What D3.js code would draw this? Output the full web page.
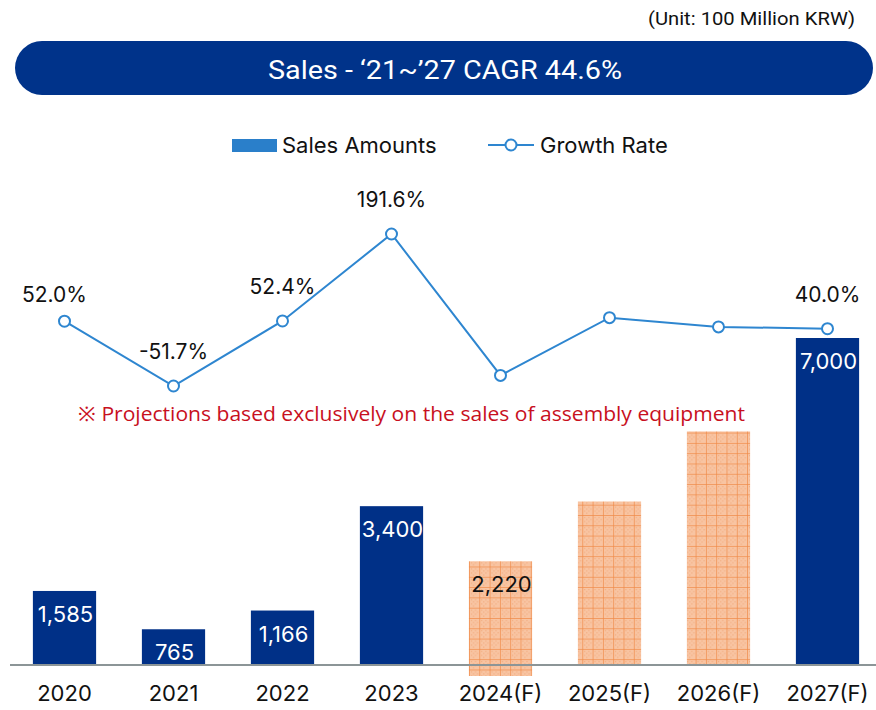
<!DOCTYPE html>
<html>
<head>
<meta charset="utf-8">
<script src="https://cdn.jsdelivr.net/npm/d3@7"></script>
<style>
  body { margin: 0; background: #fff; }
  svg { display: block; font-family: Inter, "Noto Sans", sans-serif; }
</style>
</head>
<body>
<div id="chart"></div>
<script>
// chart values
const years = ["2020", "2021", "2022", "2023", "2024(F)", "2025(F)", "2026(F)", "2027(F)"];
const sales = [1585, 765, 1166, 3400, 2220, 3500, 5000, 7000];
const salesLabels = ["1,585", "765", "1,166", "3,400", "2,220", "", "", "7,000"];
const forecast = [false, false, false, false, true, true, true, false];
const growth = [52.0, -51.7, 52.4, 191.6, -34.7, 57.7, 42.9, 40.0];
const growthLabels = ["52.0%", "-51.7%", "52.4%", "191.6%", "", "", "", "40.0%"];

const WIDTH = 876, HEIGHT = 710;
const BASE = 665;

const svg = d3.select("#chart").append("svg")
    .attr("width", WIDTH)
    .attr("height", HEIGHT);

// orange grid pattern for forecast bars
const defs = svg.append("defs");
const pat = defs.append("pattern")
    .attr("id", "grid")
    .attr("patternUnits", "userSpaceOnUse")
    .attr("x", 469).attr("y", 0)
    .attr("width", 10.3).attr("height", 10.3);
pat.append("rect").attr("width", 10.3).attr("height", 10.3).attr("fill", "#f8c4a2");
// small checker texture
[[2, 2], [6, 2], [4, 4], [2, 6], [6, 6], [4, 8], [8, 4]].forEach(p => {
  pat.append("rect").attr("x", p[0]).attr("y", p[1]).attr("width", 1).attr("height", 1)
     .attr("fill", "#f1a675");
});
pat.append("line").attr("x1", 0).attr("y1", 0).attr("x2", 0).attr("y2", 10.3)
    .attr("stroke", "#f08a48").attr("stroke-width", 1.4);
pat.append("line").attr("x1", 0).attr("y1", 0).attr("x2", 10.3).attr("y2", 0)
    .attr("stroke", "#f08a48").attr("stroke-width", 1.4);

// unit note
svg.append("text")
    .attr("x", 855).attr("y", 25)
    .attr("text-anchor", "end")
    .attr("font-family", "Roboto, sans-serif")
    .attr("font-size", 18)
    .attr("fill", "#111")
    .attr("textLength", 207)
    .attr("lengthAdjust", "spacingAndGlyphs")
    .text("(Unit: 100 Million KRW)");

// title pill
svg.append("rect")
    .attr("x", 15).attr("y", 41)
    .attr("width", 858).attr("height", 54)
    .attr("rx", 27)
    .attr("fill", "#00338a");
svg.append("text")
    .attr("x", 268).attr("y", 79)
    .attr("font-family", "Roboto, sans-serif")
    .attr("font-size", 26)
    .attr("fill", "#fff")
    .attr("textLength", 354)
    .attr("lengthAdjust", "spacingAndGlyphs")
    .text("Sales - \u201821~\u201927 CAGR 44.6%");

// legend
svg.append("rect").attr("x", 232).attr("y", 139).attr("width", 45).attr("height", 13).attr("fill", "#2a7fca");
svg.append("text").attr("x", 282).attr("y", 153).attr("font-size", 22).attr("fill", "#111").text("Sales Amounts");
svg.append("line").attr("x1", 488).attr("x2", 534).attr("y1", 145).attr("y2", 145)
    .attr("stroke", "#2e86d0").attr("stroke-width", 2);
svg.append("circle").attr("cx", 511).attr("cy", 145).attr("r", 5.5)
    .attr("fill", "#fff").attr("stroke", "#2e86d0").attr("stroke-width", 2);
svg.append("text").attr("x", 540).attr("y", 153).attr("font-size", 22).attr("fill", "#111").text("Growth Rate");

// scales
const x = d3.scaleBand()
    .domain(years)
    .range([10, 882])
    .paddingInner(0.42)
    .paddingOuter(0.21);

const yBar = d3.scaleLinear()
    .domain([0, 7000])
    .range([BASE, 338]);

const yLine = d3.scaleLinear()
    .domain([-51.7, 191.6])
    .range([386, 234]);

// bars
svg.selectAll(".bar")
    .data(years)
    .enter()
    .append("rect")
      .attr("class", "bar")
      .attr("x", d => x(d))
      .attr("y", (d, i) => yBar(sales[i]))
      .attr("width", x.bandwidth())
      .attr("height", (d, i) => BASE - yBar(sales[i]) + (i === 4 ? 11 : 0))
      .attr("fill", (d, i) => forecast[i] ? "url(#grid)" : "#003087");

// bar labels
svg.selectAll(".barlabel")
    .data(years)
    .enter()
    .append("text")
      .attr("x", d => x(d) + x.bandwidth() / 2 + 1)
      .attr("y", (d, i) => yBar(sales[i]) + 31)
      .attr("text-anchor", "middle")
      .attr("font-size", 22)
      .attr("fill", (d, i) => forecast[i] ? "#111" : "#fff")
      .text((d, i) => salesLabels[i]);

// baseline axis
svg.append("line")
    .attr("x1", 10).attr("x2", 876)
    .attr("y1", BASE).attr("y2", BASE)
    .attr("stroke", "#8c9597")
    .attr("stroke-width", 2);

const xAxis = svg.append("g")
    .attr("transform", `translate(0,${BASE})`)
    .call(d3.axisBottom(x).tickSize(0).tickPadding(0));
xAxis.select(".domain").remove();
xAxis.selectAll("text")
    .attr("y", 36)
    .attr("dy", 0)
    .attr("font-size", 22)
    .attr("font-family", "Inter, 'Noto Sans', sans-serif")
    .attr("fill", "#111");

// red note
svg.append("text")
    .attr("x", 78).attr("y", 421)
    .attr("font-family", "'Open Sans', sans-serif")
    .attr("font-size", 20)
    .attr("fill", "#c8101e")
    .attr("textLength", 667)
    .attr("lengthAdjust", "spacingAndGlyphs")
    .text("\u203B Projections based exclusively  on the sales of  assembly equipment");

// growth line
const cx = d => x(d) + x.bandwidth() / 2;
const line = d3.line()
    .x(d => cx(d))
    .y((d, i) => yLine(growth[i]));

svg.append("path")
    .datum(years)
    .attr("d", line)
    .attr("fill", "none")
    .attr("stroke", "#2e86d0")
    .attr("stroke-width", 2);

svg.selectAll(".pt")
    .data(years)
    .enter()
    .append("circle")
      .attr("cx", d => cx(d))
      .attr("cy", (d, i) => yLine(growth[i]))
      .attr("r", 5.5)
      .attr("fill", "#fff")
      .attr("stroke", "#2e86d0")
      .attr("stroke-width", 2);

svg.selectAll(".glabel")
    .data(years)
    .enter()
    .append("text")
      .attr("x", (d, i) => cx(d) + (i === 0 ? -10 : 0))
      .attr("y", (d, i) => yLine(growth[i]) - (i === 0 ? 19 : 27))
      .attr("text-anchor", "middle")
      .attr("font-size", 21)
      .attr("fill", "#111")
      .text((d, i) => growthLabels[i]);
</script>
</body>
</html>
